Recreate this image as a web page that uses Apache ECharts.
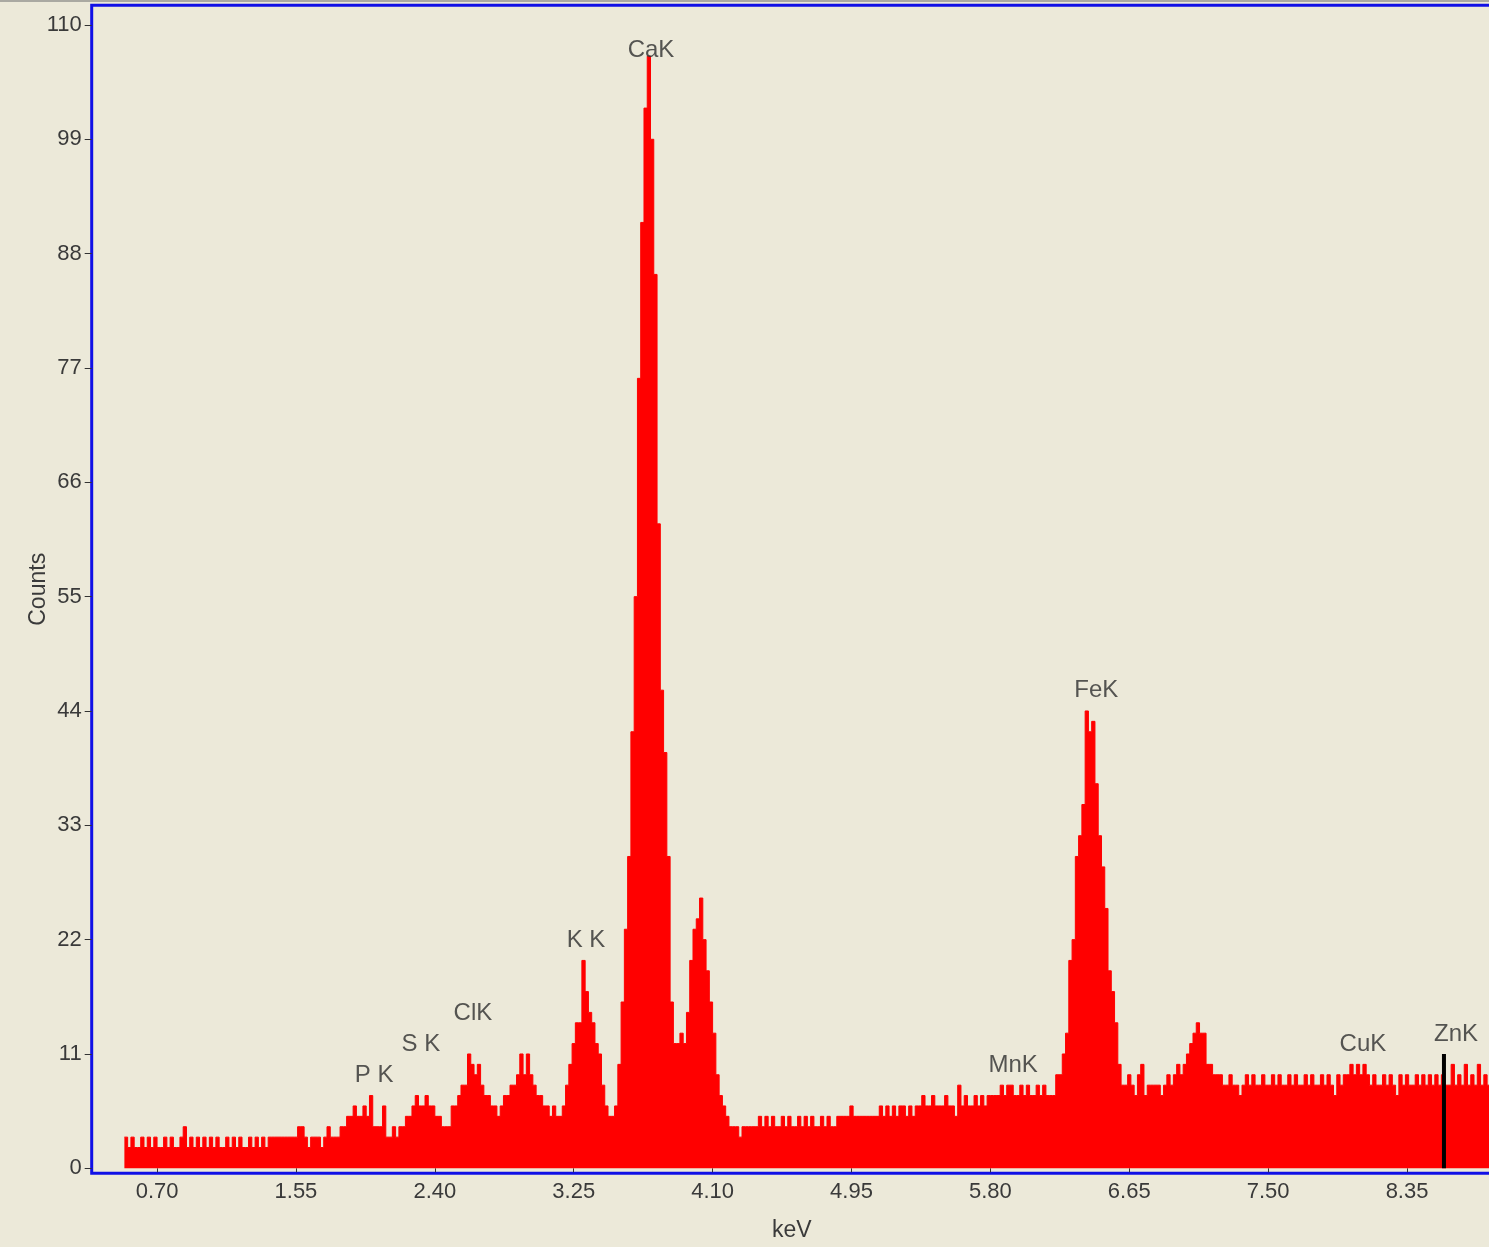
<!DOCTYPE html>
<html>
<head>
<meta charset="utf-8">
<script src="https://cdn.jsdelivr.net/npm/echarts@6/dist/echarts.min.js"></script>
<style>
html,body{margin:0;padding:0;background:#ECE9D9;}
#chart{width:1489px;height:1247px;}
</style>
</head>
<body>
<div id="chart"></div>
<script>
// ---- data (20 eV channels starting at 0.50 keV) ----
const binStartKeV = 0.50;
const binWidthKeV = 0.02;
// 0.50 - 2.48 keV
const countsA = [3,2,3,2,2,3,2,3,2,3,2,2,3,2,3,2,2,3,4,2,3,2,3,2,3,
                 2,3,2,3,2,2,3,2,3,2,3,2,2,3,2,3,2,3,2,3,3,3,3,3,3,
                 3,3,3,4,4,3,2,3,3,3,2,3,4,3,3,3,4,4,5,5,6,5,5,6,5,
                 7,4,4,4,6,3,3,4,3,4,4,5,5,6,7,6,6,7,6,6,5,5,4,4,4];
// 2.50 - 4.48 keV
const countsB = [6,6,7,8,8,11,10,9,10,8,7,7,6,6,5,6,7,7,8,8,9,11,9,11,9,
                 8,7,7,6,6,5,6,5,5,6,8,10,12,14,14,20,17,15,14,12,11,8,6,5,5,
                 6,10,16,23,30,42,55,76,91,102,107,99,86,62,46,40,30,16,12,12,13,12,15,20,23,
                 24,26,22,19,16,13,9,7,6,5,4,4,4,3,4,4,4,4,4,5,4,5,4,5,4];
// 4.50 - 6.48 keV
const countsC = [4,5,4,5,4,4,5,4,5,4,5,4,4,5,4,5,4,4,5,5,5,5,6,5,5,
                 5,5,5,5,5,5,6,5,6,5,6,5,6,6,5,6,5,6,6,7,6,6,7,6,6,
                 6,7,6,6,5,8,6,7,6,6,7,6,7,6,7,7,7,7,8,7,8,8,7,7,8,
                 7,8,7,7,8,7,8,7,7,7,9,9,11,13,20,22,30,32,35,44,42,43,37,32,29];
// 6.50 - 8.86 keV
const countsD = [25,19,17,14,10,8,8,9,8,7,9,10,7,8,8,8,8,7,8,9,8,9,10,9,10,
                 11,12,13,14,13,13,10,10,9,9,9,8,8,9,8,8,7,8,9,8,9,8,8,9,8,
                 8,9,8,9,8,8,9,8,9,8,8,9,8,9,8,8,9,8,9,8,7,9,8,9,9,
                 10,9,10,9,10,9,8,9,8,8,9,8,9,8,7,9,8,9,8,8,9,8,9,8,9,
                 8,9,8,9,8,8,10,8,9,8,10,8,9,8,10,8,9,8,9];

const xTickValues = [0.70,1.55,2.40,3.25,4.10,4.95,5.80,6.65,7.50,8.35];
const yTickValues = [0,11,22,33,44,55,66,77,88,99,110];

const peakNames       = ['P K','S K','ClK','K K','CaK','MnK','FeK','CuK','ZnK'];
const peakLabelKeV    = [2.028,2.315,2.633,3.325,3.723,5.939,6.448,8.080,8.650];
const peakLabelCounts = [8.97,11.96,14.95,21.97,107.6,9.93,46.0,11.96,12.92];

const markerKeV = 8.576;
const markerCounts = 11.0;

// ---- build series data ----
const counts = countsA.concat(countsB, countsC, countsD);
const spectrum = counts.map((c, i) => [+(binStartKeV + i * binWidthKeV).toFixed(3), c]);
spectrum.push([+(binStartKeV + counts.length * binWidthKeV).toFixed(3), counts[counts.length - 1]]);

const tickFont = "'Liberation Sans',Arial,sans-serif";
const labelFont = "'Liberation Sans',Arial,sans-serif";
const textColor = '#3a3a3a';

const chart = echarts.init(document.getElementById('chart'), null, {renderer: 'canvas'});
chart.setOption({
  animation: false,
  backgroundColor: '#ECE9D9',
  grid: {
    left: 91.7, top: 5.3, width: 1400.3, height: 1168,
    outerBoundsMode: 'none', containLabel: false,
    show: true, borderColor: '#1010e6', borderWidth: 3, backgroundColor: 'transparent'
  },
  graphic: [{
    type: 'rect', shape: {x: 0, y: 0, width: 1489, height: 2}, style: {fill: '#aaa9a2'}, silent: true
  }],
  xAxis: {
    type: 'value', min: 0.30, max: 8.87,
    name: 'keV', nameLocation: 'middle', nameGap: 46, nameMoveOverlap: false,
    nameTextStyle: {fontFamily: tickFont, fontSize: 23, color: textColor},
    axisLine: {show: false},
    splitLine: {show: false},
    axisTick: {show: true, customValues: xTickValues, length: 4, lineStyle: {color: '#333', width: 1}},
    axisLabel: {show: true, customValues: xTickValues, margin: 8,
      formatter: v => v.toFixed(2),
      fontFamily: tickFont, fontSize: 22, color: textColor}
  },
  yAxis: {
    type: 'value', min: -0.48, max: 111.89,
    name: 'Counts', nameLocation: 'middle', nameGap: 42, nameRotate: 90, nameMoveOverlap: false,
    nameTextStyle: {fontFamily: tickFont, fontSize: 23, color: textColor},
    axisLine: {show: false},
    splitLine: {show: false},
    axisTick: {show: true, customValues: yTickValues, length: 7, lineStyle: {color: '#333', width: 1}},
    axisLabel: {show: true, customValues: yTickValues, margin: 10,
      fontFamily: tickFont, fontSize: 22, color: textColor}
  },
  series: [
    {
      type: 'line', data: spectrum, step: 'end',
      showSymbol: false, symbol: 'none',
      lineStyle: {color: '#ff0000', width: 1},
      areaStyle: {color: '#ff0000', opacity: 1},
      z: 2
    },
    {
      type: 'line', data: [[markerKeV, 0], [markerKeV, markerCounts]],
      showSymbol: false, symbol: 'none',
      lineStyle: {color: '#000000', width: 4},
      z: 3
    },
    {
      type: 'scatter',
      data: peakLabelKeV.map((e, i) => [e, peakLabelCounts[i], peakNames[i]]),
      symbol: 'circle', symbolSize: 0.1,
      itemStyle: {color: 'rgba(0,0,0,0)'},
      label: {show: true, position: 'inside', formatter: p => p.data[2],
        fontFamily: labelFont, fontSize: 24, color: '#2e2e2e'},
      z: 4
    }
  ]
});
</script>
</body>
</html>
